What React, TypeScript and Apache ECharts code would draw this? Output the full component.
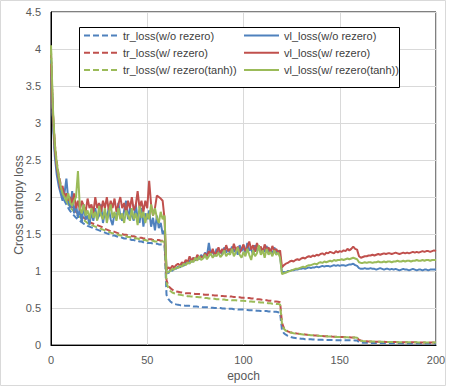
import React, { useEffect, useRef } from "react";
import * as echarts from "echarts";

const seriesNames = [
  "tr_loss(w/o rezero)",
  "tr_loss(w/ rezero)",
  "tr_loss(w/ rezero(tanh))",
  "vl_loss(w/o rezero)",
  "vl_loss(w/ rezero)",
  "vl_loss(w/ rezero(tanh))",
];

const xTicks = [0, 50, 100, 150, 200];
const yAxisTitle = "Cross entropy loss";
const xAxisTitle = "epoch";

// epochs 0..200, one value per epoch (rows of 10)
const trWo = [
  3.90,3.05,2.62,2.38,2.22,2.10,2.02,1.95,1.90,1.85,
  1.81,1.78,1.75,1.72,1.70,1.68,1.66,1.64,1.63,1.61,
  1.60,1.59,1.58,1.57,1.56,1.55,1.54,1.53,1.52,1.51,
  1.50,1.49,1.48,1.48,1.47,1.46,1.46,1.45,1.44,1.44,
  1.43,1.43,1.42,1.42,1.41,1.41,1.40,1.40,1.39,1.39,
  1.38,1.38,1.38,1.37,1.37,1.37,1.36,1.36,1.35,1.35,
  0.68,0.62,0.59,0.57,0.56,0.55,0.545,0.54,0.54,0.535,
  0.53,0.53,0.53,0.525,0.52,0.52,0.52,0.515,0.515,0.51,
  0.51,0.51,0.51,0.505,0.505,0.50,0.50,0.50,0.50,0.495,
  0.495,0.49,0.49,0.49,0.49,0.485,0.485,0.48,0.48,0.48,
  0.48,0.475,0.475,0.47,0.47,0.47,0.47,0.465,0.465,0.46,
  0.46,0.46,0.46,0.455,0.455,0.45,0.45,0.45,0.445,0.44,
  0.20,0.16,0.14,0.125,0.115,0.105,0.10,0.095,0.09,0.09,
  0.085,0.085,0.08,0.08,0.08,0.078,0.076,0.075,0.074,0.073,
  0.072,0.071,0.07,0.07,0.069,0.069,0.068,0.068,0.067,0.067,
  0.066,0.066,0.066,0.065,0.065,0.065,0.064,0.064,0.063,0.063,
  0.04,0.035,0.033,0.032,0.031,0.030,0.030,0.029,0.029,0.028,
  0.028,0.027,0.027,0.027,0.026,0.026,0.026,0.025,0.025,0.025,
  0.024,0.024,0.024,0.023,0.023,0.023,0.023,0.022,0.022,0.022,
  0.022,0.021,0.021,0.021,0.021,0.020,0.020,0.020,0.020,0.020,
  0.020,
];

const trW = [
  3.95,3.15,2.72,2.47,2.30,2.18,2.10,2.03,1.98,1.93,
  1.89,1.86,1.83,1.80,1.78,1.76,1.74,1.72,1.70,1.68,
  1.66,1.65,1.64,1.63,1.62,1.61,1.60,1.59,1.57,1.56,
  1.55,1.54,1.53,1.53,1.52,1.51,1.50,1.50,1.49,1.49,
  1.48,1.48,1.47,1.47,1.46,1.46,1.45,1.45,1.44,1.44,
  1.43,1.43,1.43,1.42,1.42,1.42,1.42,1.41,1.41,1.41,
  0.88,0.80,0.77,0.75,0.735,0.725,0.72,0.715,0.71,0.705,
  0.70,0.70,0.70,0.695,0.695,0.69,0.69,0.69,0.685,0.685,
  0.68,0.68,0.68,0.675,0.675,0.67,0.67,0.67,0.665,0.665,
  0.66,0.66,0.66,0.655,0.655,0.65,0.65,0.645,0.645,0.64,
  0.64,0.64,0.635,0.635,0.63,0.63,0.625,0.62,0.62,0.615,
  0.61,0.61,0.605,0.60,0.60,0.595,0.59,0.59,0.585,0.58,
  0.30,0.23,0.20,0.185,0.175,0.17,0.165,0.16,0.155,0.152,
  0.15,0.147,0.144,0.141,0.138,0.135,0.133,0.131,0.129,0.127,
  0.125,0.123,0.121,0.12,0.118,0.117,0.115,0.114,0.112,0.111,
  0.11,0.109,0.108,0.107,0.106,0.105,0.104,0.103,0.102,0.10,
  0.07,0.062,0.057,0.054,0.052,0.05,0.049,0.048,0.047,0.046,
  0.045,0.045,0.044,0.044,0.043,0.043,0.042,0.042,0.041,0.041,
  0.04,0.04,0.04,0.039,0.039,0.039,0.038,0.038,0.038,0.037,
  0.037,0.037,0.036,0.036,0.036,0.036,0.035,0.035,0.035,0.035,
  0.035,
];

const trTanh = [
  4.00,3.10,2.68,2.43,2.27,2.15,2.07,2.00,1.95,1.90,
  1.86,1.83,1.80,1.77,1.75,1.73,1.71,1.69,1.67,1.65,
  1.63,1.62,1.61,1.60,1.59,1.58,1.57,1.56,1.55,1.54,
  1.53,1.52,1.51,1.51,1.50,1.49,1.48,1.48,1.47,1.47,
  1.46,1.46,1.45,1.45,1.44,1.44,1.43,1.43,1.42,1.42,
  1.41,1.41,1.41,1.41,1.40,1.40,1.40,1.40,1.40,1.40,
  0.84,0.77,0.73,0.71,0.70,0.69,0.685,0.68,0.675,0.67,
  0.665,0.66,0.66,0.655,0.655,0.65,0.65,0.645,0.645,0.64,
  0.635,0.635,0.63,0.63,0.625,0.625,0.62,0.62,0.62,0.615,
  0.615,0.61,0.61,0.61,0.605,0.605,0.605,0.60,0.60,0.60,
  0.60,0.595,0.595,0.59,0.59,0.585,0.585,0.58,0.58,0.575,
  0.575,0.57,0.57,0.565,0.565,0.56,0.56,0.555,0.555,0.55,
  0.29,0.22,0.195,0.18,0.172,0.166,0.16,0.156,0.152,0.149,
  0.146,0.143,0.14,0.138,0.136,0.134,0.132,0.13,0.128,0.126,
  0.124,0.122,0.12,0.119,0.117,0.116,0.114,0.113,0.111,0.11,
  0.109,0.108,0.107,0.106,0.105,0.104,0.103,0.102,0.101,0.10,
  0.068,0.06,0.056,0.053,0.051,0.05,0.049,0.048,0.047,0.046,
  0.045,0.044,0.044,0.043,0.043,0.042,0.042,0.041,0.041,0.04,
  0.04,0.04,0.039,0.039,0.039,0.038,0.038,0.038,0.037,0.037,
  0.037,0.036,0.036,0.036,0.035,0.035,0.035,0.035,0.034,0.034,
  0.034,
];

const vlWo = [
  3.85,3.00,2.55,2.30,2.15,2.05,1.95,2.05,2.25,1.95,
  1.85,2.08,1.78,1.90,1.72,1.85,1.65,1.90,1.70,1.75,
  1.62,1.80,1.68,1.85,1.70,1.75,1.90,1.65,1.80,1.72,
  1.85,1.70,1.62,1.78,1.70,1.92,1.75,1.68,1.82,1.95,
  1.70,1.85,1.75,1.68,1.90,1.72,1.65,1.85,1.60,1.78,
  1.70,1.82,1.60,1.72,1.55,1.75,1.58,1.65,1.50,1.55,
  1.00,0.97,1.02,1.00,1.04,1.03,1.06,1.05,1.09,1.07,
  1.12,1.10,1.15,1.12,1.18,1.14,1.20,1.16,1.22,1.18,
  1.25,1.20,1.38,1.22,1.28,1.20,1.30,1.24,1.27,1.22,
  1.32,1.25,1.30,1.24,1.33,1.26,1.30,1.22,1.35,1.27,
  1.32,1.25,1.38,1.28,1.30,1.22,1.35,1.27,1.32,1.24,
  1.30,1.26,1.34,1.25,1.30,1.22,1.32,1.25,1.28,1.20,
  0.98,0.99,0.98,1.00,1.00,1.01,1.01,1.02,1.02,1.03,
  1.03,1.04,1.03,1.04,1.05,1.04,1.05,1.05,1.06,1.05,
  1.06,1.07,1.06,1.07,1.07,1.06,1.07,1.08,1.07,1.08,
  1.07,1.08,1.08,1.07,1.08,1.09,1.09,1.10,1.08,1.07,
  1.04,1.03,1.03,1.04,1.03,1.03,1.04,1.03,1.03,1.02,
  1.03,1.04,1.03,1.02,1.03,1.03,1.02,1.03,1.02,1.03,
  1.02,1.01,1.02,1.03,1.02,1.02,1.01,1.02,1.03,1.02,
  1.01,1.02,1.02,1.01,1.02,1.02,1.01,1.02,1.02,1.02,
  1.02,
];

const vlW = [
  3.80,3.10,2.65,2.40,2.25,2.10,2.15,2.00,2.05,1.95,
  2.00,1.90,2.05,1.85,1.95,1.82,1.95,1.88,1.80,1.98,
  1.85,1.90,1.78,2.00,1.85,1.92,1.80,1.95,1.85,2.00,
  1.82,1.95,1.85,1.98,1.80,1.90,2.00,1.85,1.92,1.78,
  1.95,1.85,2.00,1.82,1.88,2.08,1.85,1.95,1.80,1.95,
  1.85,2.22,1.90,1.75,1.85,2.02,2.00,1.98,1.95,1.70,
  1.02,1.05,1.03,1.07,1.05,1.08,1.10,1.07,1.12,1.10,
  1.15,1.12,1.20,1.14,1.18,1.15,1.22,1.18,1.20,1.17,
  1.24,1.20,1.27,1.22,1.30,1.22,1.25,1.32,1.24,1.30,
  1.25,1.35,1.27,1.30,1.26,1.37,1.28,1.33,1.25,1.30,
  1.36,1.27,1.32,1.40,1.29,1.35,1.26,1.38,1.30,1.33,
  1.25,1.36,1.28,1.32,1.25,1.34,1.27,1.30,1.25,1.28,
  1.05,1.08,1.10,1.11,1.13,1.14,1.13,1.15,1.16,1.15,
  1.17,1.18,1.17,1.19,1.20,1.19,1.21,1.20,1.22,1.21,
  1.23,1.24,1.22,1.25,1.24,1.26,1.25,1.24,1.27,1.25,
  1.27,1.26,1.28,1.27,1.30,1.28,1.30,1.33,1.30,1.29,
  1.20,1.18,1.19,1.20,1.20,1.21,1.21,1.22,1.21,1.22,
  1.23,1.22,1.23,1.24,1.23,1.24,1.24,1.23,1.24,1.25,
  1.24,1.23,1.24,1.25,1.24,1.25,1.24,1.25,1.26,1.25,
  1.26,1.25,1.26,1.27,1.26,1.27,1.27,1.26,1.27,1.28,
  1.27,
];

const vlTanh = [
  4.05,3.20,2.70,2.45,2.28,2.15,2.05,2.00,1.95,2.05,
  1.92,1.88,1.95,2.00,2.35,1.85,1.78,1.90,1.75,1.82,
  1.70,1.85,1.72,1.80,1.68,1.88,1.75,1.70,1.85,1.65,
  1.78,1.90,1.72,1.80,1.68,1.85,1.70,1.78,1.65,1.82,
  1.75,1.68,1.85,1.70,1.78,1.62,1.88,1.72,1.80,1.65,
  1.78,1.70,1.90,1.75,1.85,1.72,1.65,1.80,1.70,1.75,
  0.98,0.99,1.00,1.03,1.02,1.05,1.04,1.07,1.06,1.10,
  1.08,1.12,1.10,1.14,1.12,1.18,1.14,1.20,1.15,1.17,
  1.22,1.16,1.20,1.24,1.18,1.22,1.20,1.25,1.19,1.22,
  1.28,1.20,1.24,1.22,1.30,1.20,1.25,1.32,1.22,1.18,
  1.26,1.20,1.30,1.22,1.15,1.28,1.20,1.24,1.35,1.22,
  1.28,1.18,1.30,1.22,1.26,1.20,1.28,1.22,1.25,1.18,
  0.96,0.97,0.98,0.99,1.00,1.01,1.02,1.03,1.03,1.04,
  1.05,1.06,1.05,1.07,1.08,1.08,1.09,1.10,1.09,1.11,
  1.12,1.11,1.13,1.12,1.13,1.14,1.13,1.15,1.14,1.15,
  1.15,1.16,1.15,1.16,1.17,1.16,1.17,1.18,1.17,1.16,
  1.12,1.11,1.11,1.12,1.11,1.12,1.12,1.11,1.12,1.12,
  1.13,1.12,1.12,1.13,1.12,1.13,1.13,1.12,1.13,1.13,
  1.14,1.13,1.13,1.14,1.13,1.14,1.14,1.13,1.14,1.14,
  1.15,1.14,1.14,1.15,1.14,1.15,1.15,1.14,1.15,1.15,
  1.15,
];

const colors = ["#4F81BD", "#C0504D", "#9BBB59", "#4F81BD", "#C0504D", "#9BBB59"];
const allData = [trWo, trW, trTanh, vlWo, vlW, vlTanh];

const FONT = "'Liberation Sans', Arial, sans-serif";

export default function App() {
  const ref = useRef<HTMLDivElement>(null);
  useEffect(() => {
    if (!ref.current) return;
    const chart = echarts.init(ref.current, undefined, { renderer: "svg" });
    const series = allData.map((arr, k) => ({
      name: seriesNames[k],
      type: "line",
      data: arr.map((v, i) => [i, v]),
      symbol: "none",
      showSymbol: false,
      lineStyle: {
        color: colors[k],
        width: 2,
        type: k < 3 ? [6, 3] : "solid",
      },
      itemStyle: { color: colors[k] },
      z: 3,
    }));
    const legendCommon = {
      orient: "vertical",
      top: 30,
      padding: 0,
      itemHeight: 14,
      itemGap: 6,
      z: 60,
      itemStyle: { opacity: 0 },
      textStyle: { fontFamily: FONT, fontSize: 11, color: "#404040" },
    };
    chart.setOption({
      animation: false,
      backgroundColor: "#ffffff",
      textStyle: { fontFamily: FONT },
      grid: {
        left: 51,
        right: 20,
        top: 12,
        bottom: 39,
        show: true,
        borderColor: "#000000",
        borderWidth: 1,
        backgroundColor: "transparent",
      },
      graphic: [
        {
          type: "rect",
          shape: { x: 0.5, y: 0.5, width: 445, height: 385 },
          style: { fill: "none", stroke: "#d9d9d9", lineWidth: 1 },
          silent: true,
          z: -10,
        },
        {
          type: "rect",
          shape: { x: 79.5, y: 27.5, width: 320, height: 60 },
          style: { fill: "#ffffff", stroke: "#000000", lineWidth: 1 },
          silent: true,
          z: 50,
        },
        {
          type: "text",
          x: 19,
          y: 205,
          rotation: Math.PI / 2,
          style: {
            text: yAxisTitle,
            fontFamily: FONT,
            fontSize: 12,
            fill: "#595959",
            align: "center",
            verticalAlign: "middle",
          },
          silent: true,
        },
      ],
      legend: [
        { ...legendCommon, data: seriesNames.slice(0, 3), left: 83, itemWidth: 34 },
        { ...legendCommon, data: seriesNames.slice(3, 6), left: 243, itemWidth: 35 },
      ],
      xAxis: {
        type: "value",
        min: xTicks[0],
        max: xTicks[xTicks.length - 1],
        interval: 50,
        name: xAxisTitle,
        nameLocation: "middle",
        nameGap: 22,
        nameTextStyle: { fontFamily: FONT, fontSize: 12, color: "#595959" },
        axisLine: { show: true, lineStyle: { color: "#000000", width: 1 } },
        axisTick: { show: false },
        axisLabel: { fontFamily: FONT, fontSize: 11, color: "#595959", margin: 9 },
        splitLine: { show: true, lineStyle: { color: "#d9d9d9", width: 1 } },
      },
      yAxis: {
        type: "value",
        min: 0,
        max: 4.5,
        interval: 0.5,
        axisLine: { show: true, lineStyle: { color: "#000000", width: 1 } },
        axisTick: { show: false },
        axisLabel: { fontFamily: FONT, fontSize: 11, color: "#595959", margin: 10 },
        splitLine: { show: true, lineStyle: { color: "#d9d9d9", width: 1 } },
      },
      series,
    });
    return () => chart.dispose();
  }, []);
  return (
    <div style={{ position: "fixed", left: 0, top: 0, width: 456, height: 387, background: "#fff" }}>
      <div ref={ref} style={{ width: 456, height: 387 }} />
    </div>
  );
}
